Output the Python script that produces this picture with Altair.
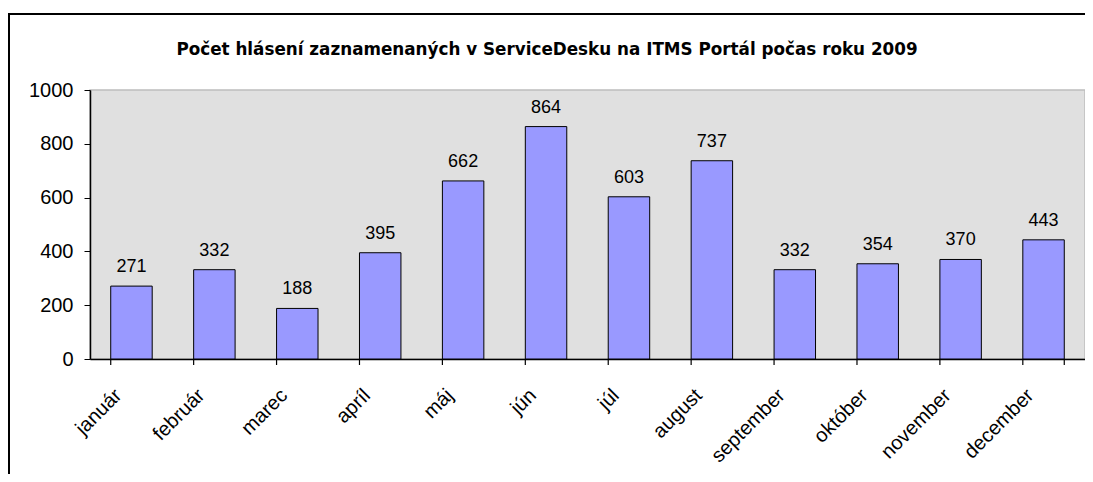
import altair as alt
import pandas as pd

months = ["január", "február", "marec", "apríl", "máj", "jún", "júl", "august",
          "september", "október", "november", "december"]
counts = [271, 332, 188, 395, 662, 864, 603, 737, 332, 354, 370, 443]
title_text = "Počet hlásení zaznamenaných v ServiceDesku na ITMS Portál počas roku 2009"
y_ticks = [0, 200, 400, 600, 800, 1000]

df = pd.DataFrame({"month": months, "count": counts})

W, H = 995, 269
FONT = "Liberation Sans"

xscale = alt.Scale(domain=months, paddingInner=0.5, paddingOuter=0.25)
yscale = alt.Scale(domain=[0, 1000])

base = alt.Chart(df)

bars = base.mark_bar(fill="#9999FF", stroke="#000000", strokeWidth=1).encode(
    x=alt.X("month:N", scale=xscale, sort=months,
            axis=alt.Axis(title=None, ticks=False, labelAngle=-45, labelAlign="right",
                          labelBaseline="middle", labelFontSize=20, labelFont=FONT,
                          labelColor="#000000", labelPadding=33, labelOffset=-13,
                          domainColor="#000000", domainWidth=1.5)),
    y=alt.Y("count:Q", scale=yscale,
            axis=alt.Axis(title=None, values=y_ticks, grid=False, tickSize=6,
                          format="d",
                          tickColor="#000000", domainColor="#000000", domainWidth=1.5,
                          labelFontSize=20, labelFont=FONT, labelColor="#000000",
                          labelPadding=11)),
)

labels = base.mark_text(font=FONT, fontSize=18, color="#000000", dy=-14,
                        baseline="alphabetic").encode(
    x=alt.X("month:N", scale=xscale, sort=months),
    y=alt.Y("count:Q", scale=yscale),
    text=alt.Text("count:Q"),
)

ticks = base.mark_rule(color="#000000", strokeWidth=1.2).encode(
    x=alt.X("month:N", scale=xscale, sort=months, bandPosition=0),
    y=alt.value(H),
    y2=alt.value(H + 6),
)
last_tick = base.transform_filter(alt.datum.month == months[-1]).mark_rule(
    color="#000000", strokeWidth=1.2).encode(
    x=alt.X("month:N", scale=xscale, sort=months, bandPosition=1),
    y=alt.value(H),
    y2=alt.value(H + 6),
)

title = alt.Chart(alt.Data(values=[{"t": title_text}])).mark_text(
    font="DejaVu Sans", fontSize=16.8, fontWeight="bold", color="#000000", align="center",
    baseline="alphabetic").encode(
    text="t:N", x=alt.value(457), y=alt.value(-35))

frame = alt.Chart(alt.Data(values=[{}])).mark_rect(
    fill="transparent", stroke="#000000", strokeWidth=2).encode(
    x=alt.value(-81), x2=alt.value(W + 60), y=alt.value(-76), y2=alt.value(H + 300))

chart = alt.layer(frame, bars, labels, ticks, last_tick, title).properties(
    width=W, height=H,
    autosize=alt.AutoSizeParams(type="none"),
    padding={"left": 82, "top": 82, "right": 0, "bottom": 115},
    background="white",
).configure_view(
    fill="#e0e0e0", stroke="#bdbdbd", strokeWidth=1.5
)

chart.save("out.html", embed_options={"renderer": "svg", "actions": False})
